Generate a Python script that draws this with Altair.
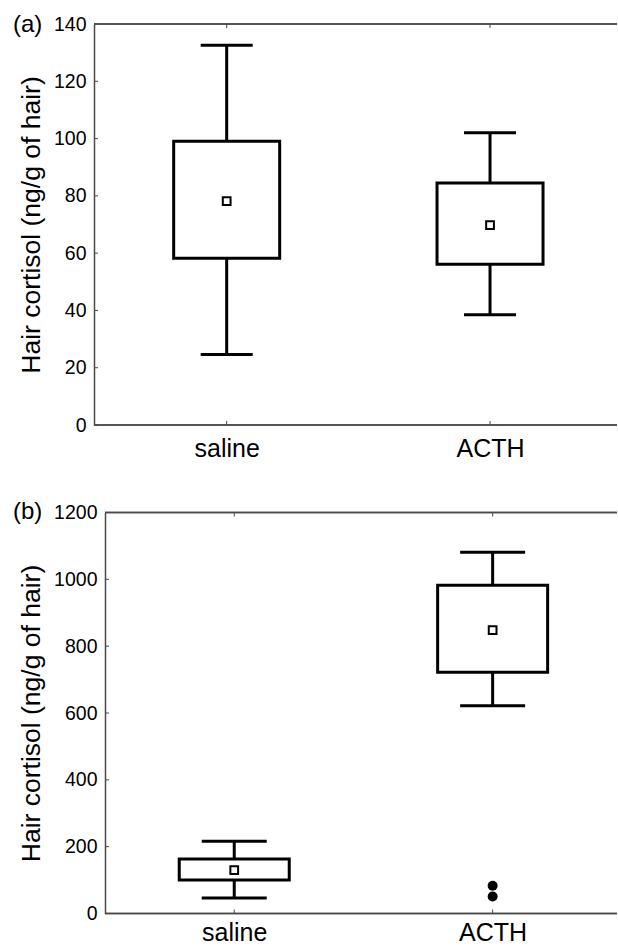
import altair as alt
import pandas as pd

groups = ["saline", "ACTH"]

# Panel (a)
a_low = [24.6, 38.5]
a_q1 = [58.2, 56.1]
a_q3 = [99.1, 84.5]
a_high = [132.6, 102.0]
a_mean = [78.2, 69.8]
a_ticks = [0, 20, 40, 60, 80, 100, 120, 140]

# Panel (b)
b_low = [46.7, 622.0]
b_q1 = [100.0, 722.0]
b_q3 = [163.0, 982.0]
b_high = [216.5, 1081.0]
b_mean = [130.0, 848.0]
b_out_group = ["ACTH", "ACTH"]
b_out_val = [83.0, 51.0]
b_ticks = [0, 200, 400, 600, 800, 1000, 1200]

FONT = "Liberation Sans"
AX = "#4a4a4a"
YTITLE = "Hair cortisol (ng/g of hair)"
W = 523


def panel(label, low, q1, q3, high, mean, ticks, ymax, height, box_w,
          cap_w, shift, pad, align, label_y, label_pad,
          out_g=None, out_v=None):
    df = pd.DataFrame({"group": groups, "low": low, "q1": q1, "q3": q3,
                       "high": high, "mean": mean})
    xs = alt.Scale(type="point", domain=groups, padding=pad, align=align)
    ys = alt.Scale(domain=[0, ymax], nice=False, zero=True)
    x = alt.X("group:N", scale=xs, sort=groups,
              axis=alt.Axis(title=None, labelAngle=0, labelFontSize=25,
                            labelFont=FONT, labelColor="black", ticks=False,
                            tickSize=0, labelPadding=label_pad,
                            domain=False, grid=False))
    yax = alt.Axis(title=YTITLE, values=ticks, format="d",
                   labelFontSize=19.5, labelFont=FONT, labelColor="black",
                   titleFont=FONT, titleFontSize=26.5,
                   titleFontWeight="normal", titleColor="black",
                   titlePadding=8, ticks=False, tickSize=0, labelPadding=8,
                   domainColor=AX, domainWidth=1.5, grid=False,
                   offset=-shift)
    base = alt.Chart(df)
    whisk = base.mark_rule(color="black", strokeWidth=3).encode(
        x=x, y=alt.Y("low:Q", scale=ys, axis=yax), y2="high:Q")
    box = base.mark_bar(size=box_w, fill="white", stroke="black",
                        strokeWidth=3).encode(x=x, y="q1:Q", y2="q3:Q")
    cap_lo = base.mark_tick(orient="horizontal", size=cap_w, thickness=3,
                            color="black", opacity=1).encode(x=x, y="low:Q")
    cap_hi = base.mark_tick(orient="horizontal", size=cap_w, thickness=3,
                            color="black", opacity=1).encode(x=x, y="high:Q")
    mean_pt = base.mark_point(shape="square", size=60, filled=False,
                              color="black", strokeWidth=2,
                              opacity=1).encode(x=x, y="mean:Q")
    tdf = pd.DataFrame({"t": ticks})
    yt = alt.Chart(tdf).mark_tick(orient="horizontal", size=4, thickness=1,
                                  color=AX, opacity=1).encode(
        x=alt.value(shift + 2), y="t:Q")
    xt_bot = base.mark_tick(orient="vertical", size=4, thickness=1,
                            color=AX, opacity=1).encode(
        x=x, y=alt.value(height - 2))
    xt_top = base.mark_tick(orient="vertical", size=4, thickness=1,
                            color=AX, opacity=1).encode(
        x=x, y=alt.value(2))
    top_rule = base.mark_rule(color=AX, strokeWidth=1.5).encode(
        x=alt.value(shift), x2=alt.value(W), y=alt.value(0))
    bot_rule = base.mark_rule(color=AX, strokeWidth=1.5).encode(
        x=alt.value(shift), x2=alt.value(W), y=alt.value(height))
    ldf = pd.DataFrame({"label": [label]})
    lab = alt.Chart(ldf).mark_text(align="left", baseline="alphabetic",
                                   fontSize=24, font=FONT,
                                   color="black").encode(
        x=alt.value(-81), y=alt.value(label_y), text="label:N")
    layers = [top_rule, bot_rule, yt, xt_bot, xt_top, whisk, box, cap_lo,
              cap_hi, mean_pt]
    if out_g is not None:
        odf = pd.DataFrame({"group": out_g, "v": out_v})
        outl = alt.Chart(odf).mark_circle(size=100, color="black",
                                          opacity=1).encode(x=x, y="v:Q")
        layers.append(outl)
    layers.append(lab)
    return alt.layer(*layers).properties(width=W, height=height)


pa = panel("(a)", a_low, a_q1, a_q3, a_high, a_mean, a_ticks, 140,
           401, 106, 52, 0, 0.493, 0.511, 7.5, 11)
pb = panel("(b)", b_low, b_q1, b_q3, b_high, b_mean, b_ticks, 1200,
           401, 110, 65, 11, 0.512, 0.530, 6.5, 7, b_out_group, b_out_val)

chart = alt.vconcat(pa, pb, spacing=38.5).properties(
    padding={"left": 13, "top": 12, "right": 0, "bottom": 0},
    background="white",
).configure_view(strokeWidth=0)

chart.save("out.html", embed_options={"renderer": "svg", "actions": False})
